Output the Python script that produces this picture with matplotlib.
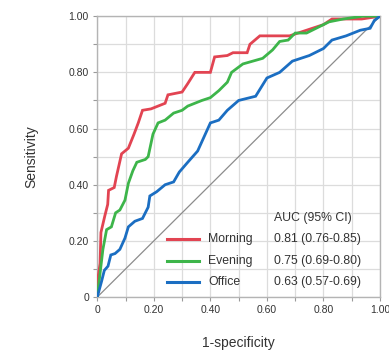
import matplotlib.pyplot as plt
from matplotlib.ticker import MultipleLocator, FuncFormatter

plt.rcParams['font.family'] = ['Liberation Sans', 'DejaVu Sans']

# ROC curve points (1-specificity, sensitivity)
morning_fpr = [0, 0.0, 0.01, 0.013, 0.02, 0.027, 0.037, 0.04, 0.06, 0.068, 0.077, 0.086,
               0.11, 0.13, 0.145, 0.16, 0.19, 0.215, 0.24, 0.25, 0.30, 0.32, 0.345,
               0.40, 0.415, 0.46, 0.48, 0.53, 0.54, 0.575, 0.68, 0.74, 0.80, 0.83, 0.935, 1.0]
morning_tpr = [0, 0.05, 0.12, 0.23, 0.26, 0.29, 0.33, 0.38, 0.39, 0.43, 0.47, 0.51,
               0.53, 0.58, 0.62, 0.665, 0.67, 0.68, 0.69, 0.72, 0.73, 0.76, 0.80,
               0.80, 0.855, 0.86, 0.87, 0.87, 0.90, 0.93, 0.93, 0.95, 0.97, 0.99, 0.99, 1.0]

evening_fpr = [0, 0.01, 0.02, 0.033, 0.05, 0.065, 0.08, 0.098, 0.11, 0.126, 0.14, 0.17,
               0.18, 0.197, 0.215, 0.24, 0.27, 0.30, 0.32, 0.37, 0.40, 0.43, 0.46,
               0.475, 0.515, 0.55, 0.585, 0.62, 0.645, 0.675, 0.70, 0.74, 0.78, 0.82,
               0.87, 0.94, 1.0]
evening_tpr = [0, 0.085, 0.17, 0.24, 0.25, 0.30, 0.31, 0.345, 0.405, 0.45, 0.48, 0.49,
               0.50, 0.58, 0.62, 0.63, 0.655, 0.665, 0.68, 0.70, 0.71, 0.735, 0.765,
               0.80, 0.83, 0.84, 0.85, 0.88, 0.91, 0.915, 0.94, 0.94, 0.96, 0.98,
               0.99, 1.0, 1.0]

office_fpr = [0, 0.015, 0.025, 0.038, 0.048, 0.063, 0.08, 0.098, 0.11, 0.133, 0.16,
              0.18, 0.186, 0.21, 0.24, 0.27, 0.29, 0.32, 0.355, 0.40, 0.43, 0.46,
              0.50, 0.56, 0.60, 0.645, 0.69, 0.75, 0.80, 0.83, 0.88, 0.93, 0.965,
              0.98, 1.0]
office_tpr = [0, 0.055, 0.095, 0.11, 0.15, 0.155, 0.17, 0.21, 0.25, 0.27, 0.28,
              0.32, 0.36, 0.375, 0.40, 0.41, 0.445, 0.48, 0.52, 0.62, 0.63, 0.665,
              0.70, 0.715, 0.78, 0.80, 0.84, 0.86, 0.885, 0.915, 0.93, 0.95, 0.957,
              0.985, 1.0]

labels = ['Morning', 'Evening', 'Office']
auc_text = ['0.81 (0.76-0.85)', '0.75 (0.69-0.80)', '0.63 (0.57-0.69)']
colors = ['#e24452', '#3db54a', '#1b6ec2']

fig = plt.figure(figsize=(3.89, 3.52), dpi=100)
ax = fig.add_axes([0.250, 0.156, 0.727, 0.798])

ax.plot([0, 1], [0, 1], color='#8c8c8c', lw=0.9, zorder=2)
curves = [(morning_fpr, morning_tpr), (evening_fpr, evening_tpr), (office_fpr, office_tpr)]
for (fx, ty), c in zip(curves, colors):
    ax.plot(fx, ty, color=c, lw=2.0, solid_joinstyle='miter', zorder=3)

ax.set_xlim(0, 1)
ax.set_ylim(0, 1)
for axis in (ax.xaxis, ax.yaxis):
    axis.set_major_locator(MultipleLocator(0.2))
    axis.set_minor_locator(MultipleLocator(0.1))
    axis.set_major_formatter(FuncFormatter(lambda v, p: '0' if abs(v) < 1e-9 else f'{v:.2f}'))
ax.grid(True, which='both', color='#dcdcdc', lw=0.9, zorder=0)
ax.tick_params(which='both', direction='out', length=3, color='#9a9a9a', width=0.8,
               labelsize=7.5, labelcolor='#333333', pad=3)
for s in ax.spines.values():
    s.set_color('#b4b4b4')
    s.set_linewidth(1.0)

ax.set_ylabel('Sensitivity', fontsize=10, color='#333333', labelpad=22)
ax.set_xlabel('1-specificity', fontsize=10, color='#333333', labelpad=15)

# legend-like table
ax.text(0.625, 0.282, 'AUC (95% CI)', fontsize=8.8, color='#333333',
        transform=ax.transAxes, va='center', ha='left')
rows_y = [0.206, 0.128, 0.052]
for yy, lab, auc, c in zip(rows_y, labels, auc_text, colors):
    ax.plot([0.247, 0.36], [yy, yy], color=c, lw=2.2, transform=ax.transAxes, zorder=4)
    ax.text(0.392, yy, lab, fontsize=8.8, color='#333333', transform=ax.transAxes,
            va='center', ha='left')
    ax.text(0.625, yy, auc, fontsize=8.8, color='#333333', transform=ax.transAxes,
            va='center', ha='left')

fig.savefig('out.png', dpi=100)
